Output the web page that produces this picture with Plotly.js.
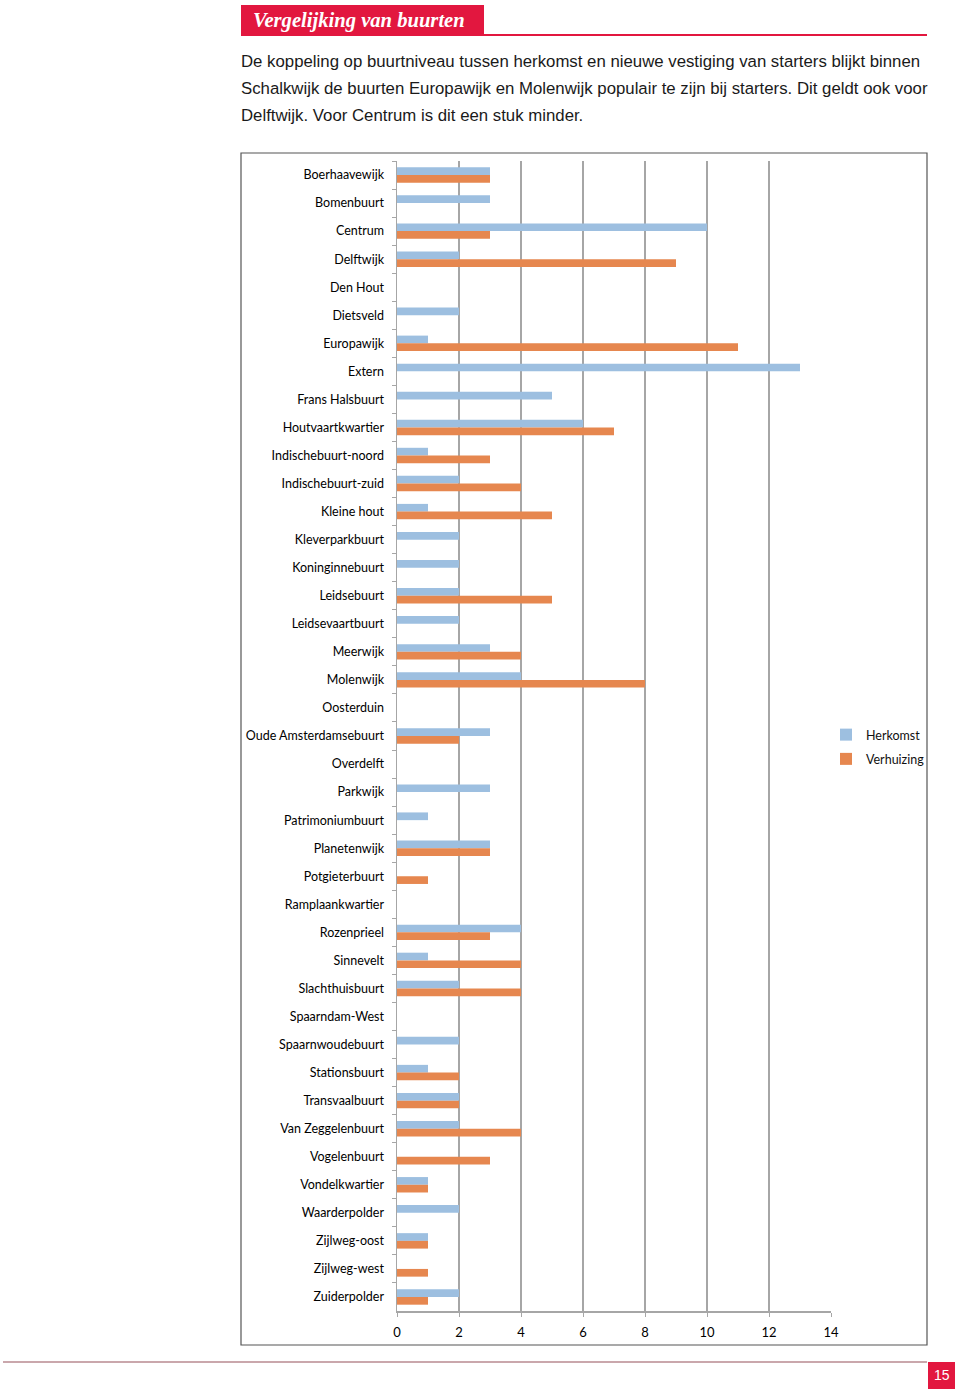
<!DOCTYPE html>
<html>
<head>
<meta charset="utf-8">
<script src="https://cdn.plot.ly/plotly-3.0.1.min.js"></script>
<style>
html,body{margin:0;padding:0;background:#fff;}
#chart{width:960px;height:1389px;}
</style>
</head>
<body>
<div id="chart"></div>
<script>
// ---- data ----
const categories = [
  "Boerhaavewijk","Bomenbuurt","Centrum","Delftwijk","Den Hout","Dietsveld","Europawijk","Extern",
  "Frans Halsbuurt","Houtvaartkwartier","Indischebuurt-noord","Indischebuurt-zuid","Kleine hout",
  "Kleverparkbuurt","Koninginnebuurt","Leidsebuurt","Leidsevaartbuurt","Meerwijk","Molenwijk",
  "Oosterduin","Oude Amsterdamsebuurt","Overdelft","Parkwijk","Patrimoniumbuurt","Planetenwijk",
  "Potgieterbuurt","Ramplaankwartier","Rozenprieel","Sinnevelt","Slachthuisbuurt","Spaarndam-West",
  "Spaarnwoudebuurt","Stationsbuurt","Transvaalbuurt","Van Zeggelenbuurt","Vogelenbuurt",
  "Vondelkwartier","Waarderpolder","Zijlweg-oost","Zijlweg-west","Zuiderpolder"
];
const herkomst = [3,3,10,2,0,2,1,13,5,6,1,2,1,2,2,2,2,3,4,0,3,0,3,1,3,0,0,4,1,2,0,2,1,2,2,0,1,2,1,0,2];
const verhuizing = [3,0,3,9,0,0,11,0,0,7,3,4,5,0,0,5,0,4,8,0,2,0,0,0,3,1,0,3,4,4,0,0,2,2,4,3,1,0,1,1,1];
const seriesNames = ["Herkomst","Verhuizing"];
const xTicks = [0,2,4,6,8,10,12,14];

const headerTitle = "Vergelijking van buurten";
const paragraphLines = [
  "De koppeling op buurtniveau tussen herkomst en nieuwe vestiging van starters blijkt binnen",
  "Schalkwijk de buurten Europawijk en Molenwijk populair te zijn bij starters. Dit geldt ook voor",
  "Delftwijk. Voor Centrum is dit een stuk minder."
];
const pageNumber = "15";

// ---- layout helpers ----
const W = 960, H = 1389;
const px = x => x / W;
const py = y => 1 - y / H;
const RED = "#e2173f";

const traces = [
  {type:"bar", orientation:"h", name:seriesNames[0], legendgroup:"a", y:categories, x:herkomst,
   marker:{color:"#9dbfe0"}},
  {type:"bar", orientation:"h", name:seriesNames[1], legendgroup:"b", y:categories, x:verhuizing,
   marker:{color:"#e6874f"}}
];

const annotations = [
  {text:headerTitle, xref:"paper", yref:"paper", x:px(251), y:py(20), xanchor:"left", yanchor:"middle",
   showarrow:false, font:{family:"Liberation Serif, serif", size:20.6, color:"#fff", style:"italic", weight:"bold"}},
  {text:pageNumber, xref:"paper", yref:"paper", x:px(941.5), y:py(1375), xanchor:"center", yanchor:"middle",
   showarrow:false, font:{family:"Liberation Sans, Arial, sans-serif", size:14, color:"#fff"}}
];
const lineYs = [62, 89, 115];
paragraphLines.forEach((t,i)=>{
  annotations.push({text:t, xref:"paper", yref:"paper", x:px(239), y:py(lineYs[i]), xanchor:"left", yanchor:"middle",
    showarrow:false, font:{family:"Liberation Sans, Arial, sans-serif", size:16.8, color:"#1a1a1a"}});
});

const shapes = [
  {type:"rect", xref:"paper", yref:"paper", x0:px(241), x1:px(484), y0:py(35), y1:py(5), fillcolor:RED, line:{width:0}},
  {type:"line", xref:"paper", yref:"paper", x0:px(241), x1:px(927), y0:py(35), y1:py(35), line:{color:RED, width:2}},
  {type:"rect", xref:"paper", yref:"paper", x0:px(241), x1:px(927), y0:py(1345), y1:py(153), line:{color:"#555", width:1.2}},
  {type:"line", xref:"paper", yref:"paper", x0:px(3), x1:px(927), y0:py(1362), y1:py(1362), line:{color:"#b88a91", width:1.5}},
  {type:"rect", xref:"paper", yref:"paper", x0:px(928), x1:px(955), y0:py(1389), y1:py(1362), fillcolor:RED, line:{width:0}}
];

const layout = {
  width:W, height:H,
  margin:{l:0,r:0,t:0,b:0},
  paper_bgcolor:"#fff", plot_bgcolor:"#fff",
  barmode:"group", bargap:0.45, bargroupgap:0,
  showlegend:true,
  legend:{x:px(826), y:py(720), xanchor:"left", yanchor:"top", bgcolor:"rgba(0,0,0,0)",
    traceorder:"grouped", tracegroupgap:5,
    font:{family:"Lato, sans-serif", size:12.5, color:"#111"}, itemwidth:30},
  xaxis:{domain:[px(397), px(831)], anchor:"y", range:[0,14], tickvals:xTicks, ticktext:xTicks.map(String),
    showgrid:true, gridcolor:"#a6a6a6", gridwidth:1.5, zeroline:false,
    showline:true, linecolor:"#a6a6a6", linewidth:1.5, ticks:"outside", ticklen:4, tickcolor:"#a6a6a6",
    ticklabelstandoff:5,
    tickfont:{family:"Lato, sans-serif", size:13, color:"#000"}, fixedrange:true},
  yaxis:{domain:[py(1311), py(161)], anchor:"x", type:"category", autorange:"reversed",
    showline:true, linecolor:"#a6a6a6", linewidth:1.5, ticks:"outside", ticklen:4, tickcolor:"#a6a6a6",
    tickson:"boundaries", showgrid:false, ticklabelstandoff:9,
    tickfont:{family:"Lato, sans-serif", size:12.5, color:"#000"}, fixedrange:true},
  shapes:shapes,
  annotations:annotations
};

Plotly.newPlot("chart", traces, layout, {displayModeBar:false, staticPlot:true});
</script>
</body>
</html>
